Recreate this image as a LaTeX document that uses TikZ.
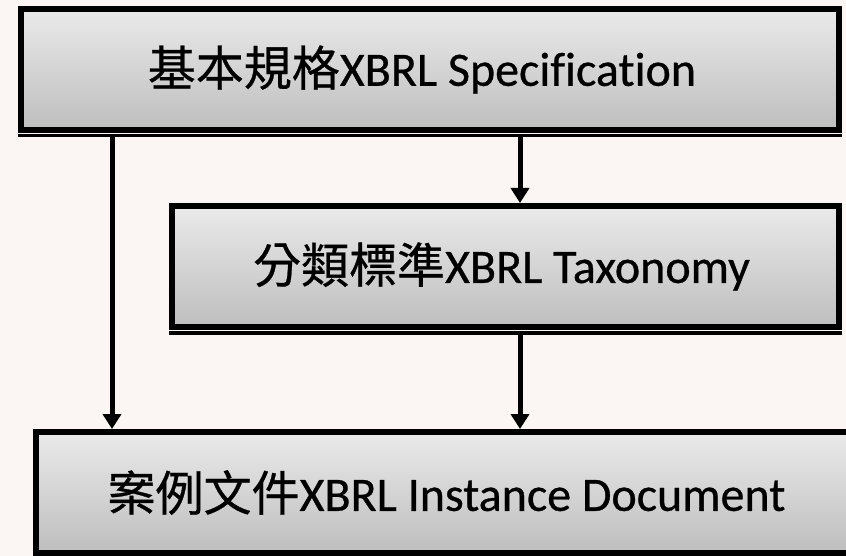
\documentclass[tikz,border=0pt]{standalone}
\usepackage{fontspec}
\setmainfont[Ligatures=NoCommon,RawFeature={-liga;-clig},FakeBold=0.6]{Carlito}
\newfontfamily\cjk[FakeBold=0.6]{Noto Sans CJK TC}
\usetikzlibrary{arrows.meta}
\definecolor{bgc}{RGB}{251,246,243}
\definecolor{gtop}{RGB}{234,234,234}
\definecolor{gbot}{RGB}{190,190,190}
\tikzset{
  boxnode/.style={draw=black, line width=6pt, rectangle, top color=gtop, bottom color=gbot,
    inner sep=0pt, minimum height=121pt, font=\fontsize{48}{56}\selectfont},
  arr/.style={line width=5pt, -{Triangle[length=15pt,width=18pt]}},
  shadowbar/.style={fill=black}
}
\begin{document}
\begin{tikzpicture}[x=1pt,y=-1pt]
\fill[bgc] (0,0) rectangle (846,556);
\useasboundingbox (0,0) rectangle (846,556);
\node[boxnode, minimum width=818pt] (top) at (430,69.5) {{\cjk 基本規格}XBRL Specification\hspace*{16pt}};
\node[boxnode, minimum width=667pt] (mid) at (505.5,266.5) {{\cjk 分類標準}XBRL Taxonomy\hspace*{8pt}};
\node[boxnode, minimum width=821pt] (bot) at (446.5,492.5) {{\cjk 案例文件}XBRL Instance Document};
\fill[shadowbar] ([yshift=-1.3pt]top.south west) rectangle ([yshift=-4.5pt]top.south east);
\fill[shadowbar] ([yshift=-1.3pt]mid.south west) rectangle ([yshift=-4.5pt]mid.south east);
\coordinate (la) at (112,0);
\coordinate (ma) at (520,0);
\draw[arr] ([yshift=-4pt]top.south -| la) -- (bot.north -| la);
\draw[arr] ([yshift=-4pt]top.south -| ma) -- (mid.north -| ma);
\draw[arr] ([yshift=-4pt]mid.south -| ma) -- (bot.north -| ma);
\end{tikzpicture}
\end{document}
